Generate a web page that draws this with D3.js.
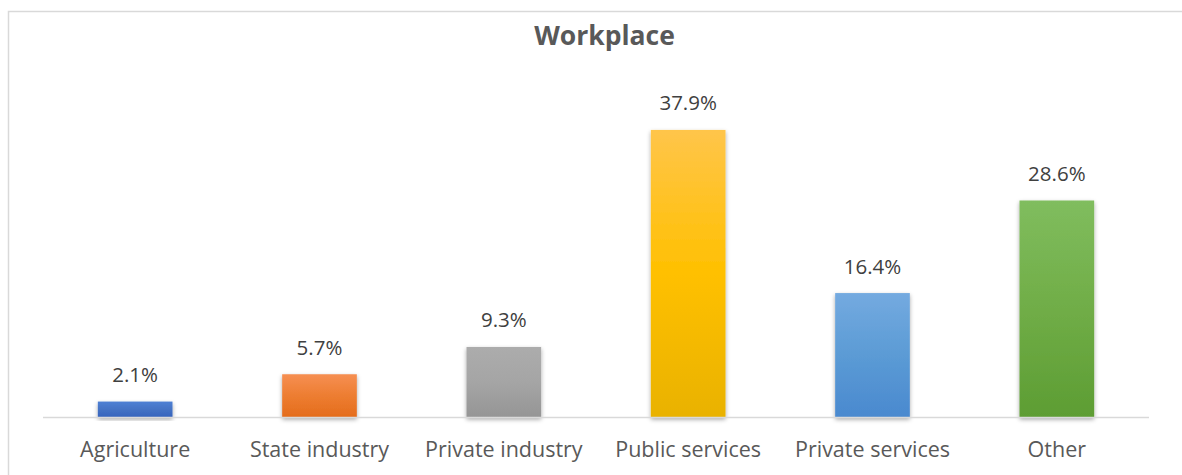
<!DOCTYPE html>
<html>
<head>
<meta charset="utf-8">
<script src="https://cdn.jsdelivr.net/npm/d3@7"></script>
<style>
  html, body { margin: 0; padding: 0; background: #ffffff; }
  svg { display: block; }
</style>
</head>
<body>
<svg id="chart" width="1182" height="475"></svg>
<script>
// Share of respondents by workplace
const categories = ["Agriculture", "State industry", "Private industry", "Public services", "Private services", "Other"];
const values = [2.1, 5.7, 9.3, 37.9, 16.4, 28.6];
// light top / base / darker bottom for each bar's gradient
const barTop = ["#4f80d4", "#f68f52", "#acacac", "#ffc54a", "#74aae0", "#80bd5e"];
const barMid = ["#4472c4", "#ed7d31", "#a5a5a5", "#ffc000", "#5b9bd5", "#70ad47"];
const barBottom = ["#3563bd", "#e46c1c", "#959595", "#e9b200", "#4a89cf", "#5d9d33"];

const W = 1182, H = 475;
const svg = d3.select("#chart");
const defs = svg.append("defs");

// soft shadow under each bar
const shadow = defs.append("filter").attr("id", "barShadow")
  .attr("x", "-20%").attr("y", "-20%").attr("width", "140%").attr("height", "140%");
shadow.append("feDropShadow")
  .attr("dx", 0).attr("dy", 2).attr("stdDeviation", 2.2)
  .attr("flood-color", "#000").attr("flood-opacity", 0.35);

categories.forEach((c, i) => {
  const g = defs.append("linearGradient").attr("id", "grad" + i)
    .attr("x1", 0).attr("y1", 0).attr("x2", 0).attr("y2", 1);
  g.append("stop").attr("offset", "0%").attr("stop-color", barTop[i]);
  g.append("stop").attr("offset", "50%").attr("stop-color", barMid[i]);
  g.append("stop").attr("offset", "100%").attr("stop-color", barBottom[i]);
});

// chart frame
svg.append("rect")
  .attr("x", 8.5).attr("y", 11.5).attr("width", 1300).attr("height", 600)
  .attr("fill", "#ffffff").attr("stroke", "#d9d9d9").attr("stroke-width", 1.5);

const x = d3.scaleBand().domain(categories).range([43, 1149])
  .paddingInner(0.595).paddingOuter(0.2975);
const y = d3.scaleLinear().domain([0, 40]).range([417.5, 114]);

// title
svg.append("text")
  .attr("x", 604.5).attr("y", 44.5)
  .attr("text-anchor", "middle")
  .attr("font-family", "'Open Sans', 'Noto Sans', sans-serif")
  .attr("font-weight", "bold").attr("font-size", 26.5)
  .attr("fill", "#595959")
  .text("Workplace");

// bars
svg.append("g").selectAll("rect")
  .data(values)
  .join("rect")
  .attr("x", (d, i) => x(categories[i]))
  .attr("width", x.bandwidth())
  .attr("y", d => y(d))
  .attr("height", d => y(0) - y(d))
  .attr("fill", (d, i) => `url(#grad${i})`)
  .attr("filter", "url(#barShadow)");

// category axis
const axis = svg.append("g").attr("transform", `translate(0,${y(0)})`)
  .call(d3.axisBottom(x).tickSize(0).tickPadding(30));
axis.select(".domain").attr("stroke", "#d9d9d9").attr("stroke-width", 1.5)
  .attr("d", "M43,0H1149");
axis.selectAll(".tick text")
  .attr("font-family", "'Open Sans', 'Noto Sans', sans-serif")
  .attr("font-size", 21.5)
  .attr("fill", "#595959")
  .attr("dy", "0")
  .attr("y", 39.5);

// value labels
svg.append("g").selectAll("text")
  .data(values)
  .join("text")
  .attr("x", (d, i) => x(categories[i]) + x.bandwidth() / 2)
  .attr("y", d => y(d) - 19.5)
  .attr("text-anchor", "middle")
  .attr("font-family", "'Open Sans', 'Noto Sans', sans-serif")
  .attr("font-size", 20.5)
  .attr("fill", "#404040")
  .text(d => d.toFixed(1) + "%");
</script>
</body>
</html>
